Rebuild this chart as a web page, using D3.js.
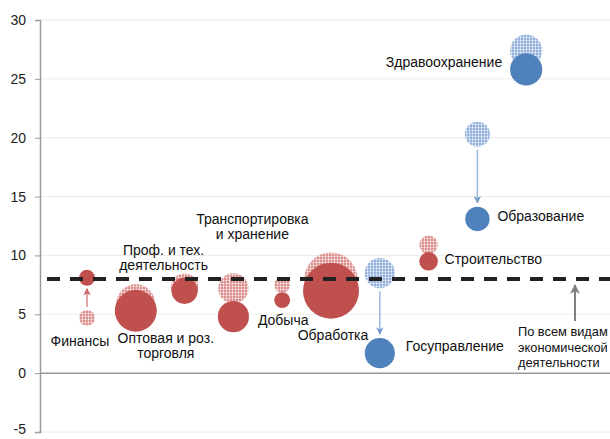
<!DOCTYPE html>
<html>
<head>
<meta charset="utf-8">
<script src="https://cdn.jsdelivr.net/npm/d3@7"></script>
<style>
  body { margin: 0; background: #fff; }
  svg { display: block; font-family: "Liberation Sans", Arial, sans-serif; }
</style>
</head>
<body>
<div id="chart"></div>
<script>
// categories (line breaks = label lines)
const categories = ["Финансы", "Оптовая и роз.\nторговля", "Проф. и тех.\nдеятельность",
  "Транспортировка\nи хранение", "Добыча", "Обработка", "Госуправление",
  "Строительство", "Образование", "Здравоохранение"];
const sectorType = ["market", "market", "market", "market", "market", "market",
  "public", "market", "public", "public"];
// previous period (hatched) and current period (solid)
const prevValues = [4.7, 5.9, 7.3, 7.2, 7.5, 8.0, 8.5, 10.9, 20.3, 27.4];
const currValues = [8.1, 5.3, 7.0, 4.8, 6.2, 7.0, 1.7, 9.5, 13.1, 25.8];
const prevSize = [8, 48, 24, 29, 8, 90, 29, 11, 20, 33];
const currSize = [8, 56, 22, 31, 8, 100, 29, 11, 19, 33];
const arrowCats = ["Финансы", "Госуправление", "Образование"];
const allLabel = "По всем видам\nэкономической\nдеятельности";
const allValue = 8.0;
const yTicks = [-5, 0, 5, 10, 15, 20, 25, 30];

const width = 610, height = 439;
const colors = { market: "#c0504d", public: "#4f81bd" };
const light = { market: "#dc8f8d", public: "#93b1dc" };

const svg = d3.select("#chart").append("svg")
  .attr("width", width).attr("height", height);

const defs = svg.append("defs");
Object.keys(colors).forEach(k => {
  const p = defs.append("pattern").attr("id", "hatch-" + k)
    .attr("patternUnits", "userSpaceOnUse").attr("width", 3).attr("height", 3);
  p.append("rect").attr("width", 3).attr("height", 3).attr("fill", light[k]);
  p.append("circle").attr("cx", 1.5).attr("cy", 1.5).attr("r", 0.9).attr("fill", "#fff");
  defs.append("marker").attr("id", "arrow-" + k)
    .attr("viewBox", "0 0 10 10").attr("refX", 9).attr("refY", 5)
    .attr("markerWidth", 5).attr("markerHeight", 5).attr("orient", "auto")
    .append("path").attr("d", "M0,0 L10,5 L0,10 L3,5 z").attr("fill", k == "market" ? "#c66" : "#6f97cc");
});
defs.append("marker").attr("id", "arrow-all")
  .attr("viewBox", "0 0 10 10").attr("refX", 9).attr("refY", 5)
  .attr("markerWidth", 5).attr("markerHeight", 5).attr("orient", "auto")
  .append("path").attr("d", "M0,0 L10,5 L0,10 L3,5 z").attr("fill", "#808080");

const left = 40;
const y = d3.scaleLinear().domain([-5, 30]).range([432, 20]);
const x = d3.scalePoint().domain([...categories, allLabel]).range([87, 575]);
const r = d3.scaleSqrt().domain([0, 100]).range([0, 28]);

// grid
svg.append("g").selectAll("line").data(yTicks).join("line")
  .attr("x1", left).attr("x2", width)
  .attr("y1", d => y(d)).attr("y2", d => y(d))
  .attr("stroke", d => d === 0 ? "#9a9a9a" : "#ececec")
  .attr("stroke-width", d => d === 0 ? 1.5 : 1);

// y axis
const yAxis = svg.append("g").attr("transform", `translate(${left},0)`)
  .call(d3.axisLeft(y).tickValues(yTicks).tickFormat(d => String(d)).tickSize(5).tickPadding(9));
yAxis.select(".domain").attr("stroke", "#9a9a9a").attr("stroke-width", 1.5);
yAxis.selectAll(".tick line").attr("stroke", "#9a9a9a");
yAxis.selectAll("text").attr("font-size", 14).attr("fill", "#222")
  .attr("font-family", "Liberation Sans, Arial, sans-serif");
yAxis.selectAll(".tick").filter(d => d === -5).select("text").attr("dy", "0.1em");

const data = categories.map((c, i) => ({
  cat: c, type: sectorType[i],
  prev: prevValues[i], curr: currValues[i],
  rp: r(prevSize[i]), rc: r(currSize[i])
}));

// hatched (previous) bubbles
svg.append("g").selectAll("circle").data(data).join("circle")
  .attr("cx", d => x(d.cat)).attr("cy", d => y(d.prev)).attr("r", d => d.rp)
  .attr("fill", d => `url(#hatch-${d.type})`);

// solid (current) bubbles
svg.append("g").selectAll("circle").data(data).join("circle")
  .attr("cx", d => x(d.cat)).attr("cy", d => y(d.curr)).attr("r", d => d.rc)
  .attr("fill", d => colors[d.type]);

// arrows from previous to current
svg.append("g").selectAll("line").data(data.filter(d => arrowCats.includes(d.cat))).join("line")
  .attr("x1", d => x(d.cat)).attr("x2", d => x(d.cat))
  .attr("y1", d => d.curr > d.prev ? y(d.prev) - d.rp - 3 : y(d.prev) + d.rp + 3)
  .attr("y2", d => d.curr > d.prev ? y(d.curr) + d.rc + 3 : y(d.curr) - d.rc - 4)
  .attr("stroke", d => d.type == "market" ? "#d48a88" : "#9bb8de")
  .attr("stroke-width", 1.5)
  .attr("marker-end", d => `url(#arrow-${d.type})`);

// average dashed line
svg.append("line")
  .attr("x1", left + 7).attr("x2", width)
  .attr("y1", y(allValue)).attr("y2", y(allValue))
  .attr("stroke", "#222").attr("stroke-width", 4)
  .attr("stroke-dasharray", "13,10");

svg.append("line")
  .attr("x1", x(allLabel)).attr("x2", x(allLabel))
  .attr("y1", y(allValue) + 42).attr("y2", y(allValue) + 6)
  .attr("stroke", "#808080").attr("stroke-width", 2)
  .attr("marker-end", "url(#arrow-all)");

// labels: [x offset, y of first line, anchor, font size]
const labelPos = {
  "Финансы": [-7, 341, "middle", 14],
  "Оптовая и роз.\nторговля": [30, 338, "middle", 14],
  "Проф. и тех.\nдеятельность": [-21, 250, "middle", 14],
  "Транспортировка\nи хранение": [19, 219, "middle", 14],
  "Добыча": [1, 320, "middle", 14],
  "Обработка": [2, 335, "middle", 14],
  "Госуправление": [26, 346, "start", 14],
  "Строительство": [16, 259, "start", 14],
  "Образование": [20, 216, "start", 14],
  "Здравоохранение": [-24, 62, "end", 14]
};
labelPos[allLabel] = [-57, 332, "start", 12.8];

const labels = svg.append("g").attr("fill", "#111");
[...categories, allLabel].forEach(c => {
  const [dx, ly, anchor, fs] = labelPos[c];
  const t = labels.append("text").attr("text-anchor", anchor).attr("font-size", fs)
    .attr("x", x(c) + dx).attr("y", ly);
  c.split("\n").forEach((line, j) => {
    t.append("tspan").attr("x", x(c) + dx).attr("dy", j === 0 ? "0.35em" : 15.5).text(line);
  });
});
</script>
</body>
</html>
